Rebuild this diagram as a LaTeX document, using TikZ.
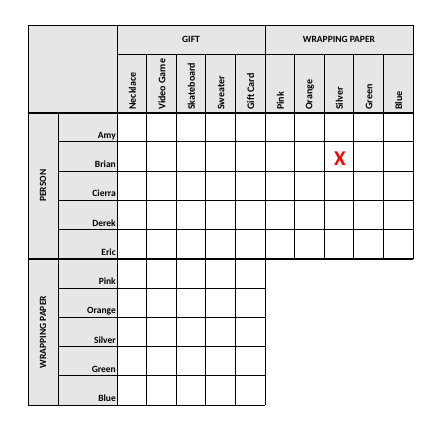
\documentclass[tikz,border=0pt]{standalone}
\usepackage{fontspec}
\setmainfont{Carlito}
\definecolor{headgray}{RGB}{230,230,230}
\tikzstyle{grid line}=[draw,line width=0.9pt]
\tikzstyle{heavy line}=[draw,line width=2pt]
\tikzstyle{item}=[font=\bfseries\fontsize{9.5}{11}\selectfont,inner sep=0pt]
\tikzstyle{col label}=[item,font=\bfseries\fontsize{10}{12}\selectfont,rotate=90,anchor=west]
\tikzstyle{row label}=[item,anchor=base east]
\tikzstyle{category}=[font=\bfseries\fontsize{9.5}{11}\selectfont,inner sep=0pt]
\tikzstyle{cross}=[font=\bfseries\fontsize{21}{24}\selectfont,text=red,inner sep=0pt]

\begin{document}
\begin{tikzpicture}[x=1pt,y=-1pt]
		\useasboundingbox (0,0) rectangle (440,425);
		% gray header areas
		\fill[headgray] (28,25) rectangle (413,112.7);
		\fill[headgray] (28,112.7) rectangle (117,405.2);
		% header lines
		\path[grid line] (28,25) rectangle (413,112.7);
		\path[grid line] (117,54.3) -- (413,54.3);
		\path[grid line] (117,25) -- (117,405.2);
		\path[grid line] (265,25) -- (265,405.2);
		\foreach \i in {1,2,3,4,6,7,8,9}
		 \path[grid line] ({117+\i*29.6},54.3) -- ({117+\i*29.6},258.95);
		\foreach \i in {1,2,3,4}
		 \path[grid line] ({117+\i*29.6},258.95) -- ({117+\i*29.6},405.2);
		\path[grid line] (413,25) -- (413,258.95);
		% left side lines
		\path[grid line] (28,112.7) -- (28,405.2);
		\path[grid line] (58,112.7) -- (58,405.2);
		\foreach \j in {1,2,3,4}
		 \path[grid line] (58,{112.7+\j*29.25}) -- (413,{112.7+\j*29.25});
		\foreach \j in {6,7,8,9}
		 \path[grid line] (58,{112.7+\j*29.25}) -- (265,{112.7+\j*29.25});
		\path[grid line] (28,405.2) -- (265,405.2);
		\path[heavy line] (28,112.7) -- (413,112.7);
		\path[heavy line] (28,258.95) -- (413,258.95);
		% categories
		\node[category] (gift) at (191,39.6) {GIFT};
		\node[category] (paper) at (339,39.6) {WRAPPING PAPER};
		\node[category,rotate=90] (person) at (43,185.8) {PERSON};
		\node[category,rotate=90] (paperleft) at (43,332) {WRAPPING PAPER};
		% column and row labels
		\foreach \lbl [count=\i] in {Necklace,Video Game,Skateboard,Sweater,Gift Card,Pink,Orange,Silver,Green,Blue}
		 \node[col label] (col\i) at ({117+(\i-0.5)*29.6+0.5},110) {\lbl};
		\foreach \lbl [count=\j] in {Amy,Brian,Cierra,Derek,Eric,Pink,Orange,Silver,Green,Blue}
		 \node[row label] (row\j) at (116,{112.7+\j*29.25-3.5}) {\lbl};
		\node[cross] (mark1) at (340,158.2) {X};
		\end{tikzpicture}
\end{document}
